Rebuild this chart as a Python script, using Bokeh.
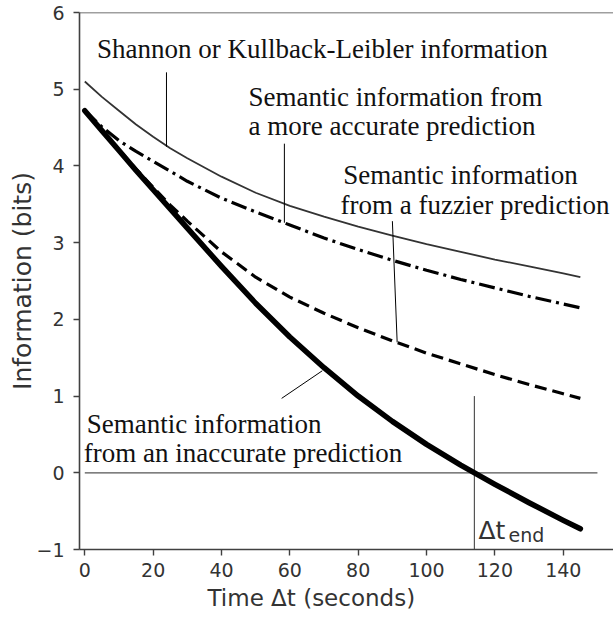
from bokeh.plotting import figure
from bokeh.models import Label, Span, FixedTicker, Range1d, Title
from bokeh.embed import file_html
from bokeh.resources import INLINE

# ---- data ----
time_s = [0, 5, 10, 15, 20, 25, 30, 40, 50, 60, 70, 80, 90, 100, 110, 120, 130, 140, 145]
shannon = [5.10, 4.90, 4.72, 4.54, 4.38, 4.23, 4.10, 3.86, 3.65, 3.48, 3.34, 3.21, 3.09, 2.98, 2.88, 2.78, 2.69, 2.60, 2.55]
accurate = [4.72, 4.51, 4.33, 4.19, 4.06, 3.93, 3.80, 3.58, 3.40, 3.23, 3.06, 2.91, 2.77, 2.64, 2.52, 2.41, 2.30, 2.20, 2.15]
fuzzier = [4.72, 4.46, 4.21, 3.96, 3.72, 3.49, 3.28, 2.88, 2.55, 2.29, 2.08, 1.89, 1.72, 1.56, 1.42, 1.28, 1.15, 1.03, 0.97]
inaccurate = [4.72, 4.46, 4.20, 3.94, 3.69, 3.44, 3.19, 2.69, 2.21, 1.77, 1.37, 1.00, 0.67, 0.37, 0.10, -0.15, -0.39, -0.62, -0.73]

x_ticks = [0, 20, 40, 60, 80, 100, 120, 140]
y_ticks = [-1, 0, 1, 2, 3, 4, 5, 6]
t_end = 114
zero_line_end = 150

# leader lines from labels to curves
lead_x0 = [23.9, 58.4, 90.0, 57.6]
lead_y0 = [5.22, 4.29, 3.28, 0.97]
lead_x1 = [23.9, 58.4, 91.4, 69.5]
lead_y1 = [4.25, 3.26, 1.70, 1.33]

# annotation texts
ann_text = ["Shannon or Kullback-Leibler information",
            "Semantic information from", "a more accurate prediction",
            "Semantic information", "from a fuzzier prediction",
            "Semantic information", "from an inaccurate prediction"]
ann_x = [3.6, 47.9, 47.9, 75.6, 74.8, 0.6, -0.3]
ann_y = [5.53, 4.90, 4.52, 3.88, 3.49, 0.64, 0.26]

AX = "#404040"
TXT = "#333333"

p = figure(width=613, height=619, output_backend="svg", toolbar_location=None,
           x_range=Range1d(-1.55, 154.7), y_range=Range1d(-1, 6),
           min_border_left=79, min_border_right=0, min_border_top=12, min_border_bottom=70,
           background_fill_color="white", border_fill_color="white")
p.outline_line_color = None
p.grid.visible = False

for ax in (p.xaxis[0], p.yaxis[0]):
    ax.axis_line_color = AX
    ax.axis_line_width = 1.6
    ax.major_tick_line_color = AX
    ax.major_tick_line_width = 1.4
    ax.major_tick_out = 6
    ax.major_tick_in = 0
    ax.minor_tick_line_color = None
    ax.major_label_text_font = "DejaVu Sans"
    ax.major_label_text_font_size = "19px"
    ax.major_label_text_color = TXT

p.xaxis.ticker = FixedTicker(ticks=x_ticks)
p.yaxis.ticker = FixedTicker(ticks=y_ticks)
p.yaxis.major_label_overrides = {-1: "\u22121"}
p.xaxis.major_label_standoff = 7
p.yaxis.major_label_standoff = 9

p.yaxis.axis_label = "Information (bits)"
p.yaxis.axis_label_text_font = "DejaVu Sans"
p.yaxis.axis_label_text_font_size = "25px"
p.yaxis.axis_label_text_font_style = "normal"
p.yaxis.axis_label_text_color = TXT
p.yaxis.axis_label_standoff = -4

# x axis title, shifted left like in the reference
p.add_layout(Title(text="Time \u0394t (seconds)", align="left", offset=128, standoff=6,
                   text_font="DejaVu Sans", text_font_size="23px", text_font_style="normal",
                   text_color=TXT), "below")

# top spine
p.add_layout(Span(location=6, dimension="width", line_color=AX, line_width=1.6))

# reference lines
p.segment(x0=[0], y0=[0], x1=[zero_line_end], y1=[0], line_color="#555555", line_width=1.2)
p.segment(x0=[t_end], y0=[-1], x1=[t_end], y1=[1], line_color="#555555", line_width=1.2)

# curves
p.line(time_s, shannon, line_color="#333333", line_width=1.8)
p.line(time_s, accurate, line_color="black", line_width=3.2, line_dash="16 5 3 5")
p.line(time_s, fuzzier, line_color="black", line_width=3.2, line_dash="12 6")
p.line(time_s, inaccurate, line_color="black", line_width=5.5, line_join="round", line_cap="round")

# leader lines
p.segment(x0=lead_x0, y0=lead_y0, x1=lead_x1, y1=lead_y1, line_color="black", line_width=1)

for t, x, y in zip(ann_text, ann_x, ann_y):
    p.add_layout(Label(x=x, y=y, text=t, text_font="Liberation Serif", text_font_size="27px",
                       text_color="#111111", text_baseline="alphabetic", text_align="left"))

p.add_layout(Label(x=115.2, y=-0.75, text="\u0394t", text_font="DejaVu Sans",
                   text_font_size="25px", text_color=TXT, text_baseline="alphabetic"))
p.add_layout(Label(x=124.0, y=-0.81, text="end", text_font="DejaVu Sans",
                   text_font_size="19px", text_color=TXT, text_baseline="alphabetic"))

open("out.html", "w").write(file_html(p, INLINE))
